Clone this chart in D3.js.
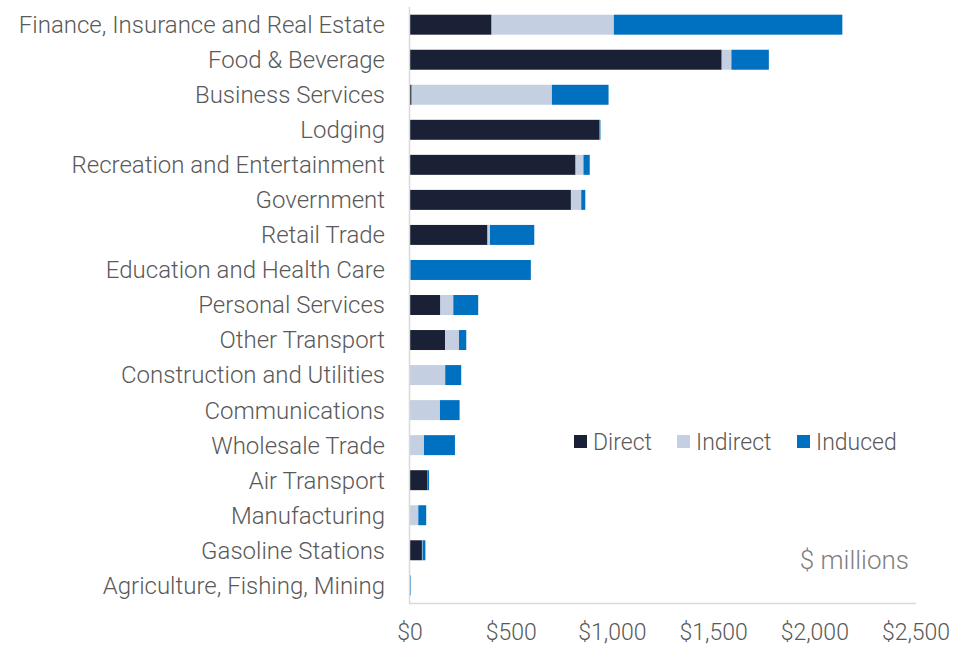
<!DOCTYPE html>
<html>
<head>
<meta charset="utf-8">
<script src="https://cdn.jsdelivr.net/npm/d3@7"></script>
<style>
  body { margin: 0; background: #fff; }
  svg text { font-family: Roboto, "Open Sans", sans-serif; font-weight: 300; }
</style>
</head>
<body>
<svg id="chart" width="954" height="646"></svg>
<script>
var sectors = ["Finance, Insurance and Real Estate", "Food & Beverage", "Business Services",
  "Lodging", "Recreation and Entertainment", "Government", "Retail Trade",
  "Education and Health Care", "Personal Services", "Other Transport",
  "Construction and Utilities", "Communications", "Wholesale Trade", "Air Transport",
  "Manufacturing", "Gasoline Stations", "Agriculture, Fishing, Mining"];
var direct   = [403, 1540, 8, 934, 818, 795, 383, 0, 150, 174, 0, 0, 0, 87, 0, 59, 0];
var indirect = [604, 48, 693, 1, 39, 51, 12, 2, 64, 68, 174, 148, 69, 1, 41, 3, 2];
var induced  = [1129, 185, 280, 6, 31, 20, 219, 595, 123, 36, 79, 97, 153, 6, 39, 14, 3];
var xTicks = [0, 500, 1000, 1500, 2000, 2500];
var seriesNames = ["Direct", "Indirect", "Induced"];
var colors = ["#1a2035", "#c5cfe2", "#0070c0"];

var rows = sectors.map(function(s, i) {
  return { sector: s, Direct: direct[i], Indirect: indirect[i], Induced: induced[i] };
});

var svg = d3.select("#chart");
var plotLeft = 410, plotRight = 916, plotTop = 7, plotBottom = 603;

var x = d3.scaleLinear().domain([0, 2500]).range([plotLeft, plotRight]);
var y = d3.scaleBand().domain(sectors).range([plotTop, plotBottom]).paddingInner(0.43).paddingOuter(0.22);

var stack = d3.stack().keys(seriesNames)(rows);

svg.append("g")
  .selectAll("g")
  .data(stack)
  .enter().append("g")
  .attr("fill", function(d, i) { return colors[i]; })
  .selectAll("rect")
  .data(function(d) { return d; })
  .enter().append("rect")
  .attr("x", function(d) { return x(d[0]); })
  .attr("y", function(d) { return y(d.data.sector); })
  .attr("width", function(d) { return Math.max(0, x(d[1]) - x(d[0])); })
  .attr("height", y.bandwidth());

// axis lines
svg.append("line")
  .attr("x1", plotLeft - 0.5).attr("x2", plotLeft - 0.5)
  .attr("y1", plotTop).attr("y2", plotBottom)
  .attr("stroke", "#d9d9d9").attr("stroke-width", 1.5);
svg.append("line")
  .attr("x1", plotLeft - 1).attr("x2", plotRight)
  .attr("y1", plotBottom + 0.5).attr("y2", plotBottom + 0.5)
  .attr("stroke", "#d9d9d9").attr("stroke-width", 1.5);

// category labels
svg.append("g")
  .selectAll("text")
  .data(sectors)
  .enter().append("text")
  .attr("x", 385)
  .attr("y", function(d) { return y(d) + y.bandwidth() / 2; })
  .attr("dy", "0.35em")
  .attr("text-anchor", "end")
  .attr("font-size", 24)
  .attr("fill", "#595959")
  .text(function(d) { return d; });

// x tick labels
svg.append("g")
  .selectAll("text")
  .data(xTicks)
  .enter().append("text")
  .attr("x", function(d) { return x(d); })
  .attr("y", 640)
  .attr("text-anchor", "middle")
  .attr("font-size", 23)
  .attr("fill", "#595959")
  .text(function(d) { return "$" + d3.format(",")(d); });

// legend
var legendX = [574, 677, 797];
var legend = svg.append("g")
  .selectAll("g")
  .data(seriesNames)
  .enter().append("g")
  .attr("transform", function(d, i) { return "translate(" + legendX[i] + ",435)"; });
legend.append("rect")
  .attr("width", 13).attr("height", 13)
  .attr("fill", function(d, i) { return colors[i]; });
legend.append("text")
  .attr("x", 19).attr("y", 6.5).attr("dy", "0.35em")
  .attr("font-size", 23)
  .attr("fill", "#595959")
  .text(function(d) { return d; });

svg.append("text")
  .attr("x", 909).attr("y", 569)
  .attr("text-anchor", "end")
  .attr("font-size", 26)
  .attr("fill", "#7f7f7f")
  .text("$ millions");
</script>
</body>
</html>
